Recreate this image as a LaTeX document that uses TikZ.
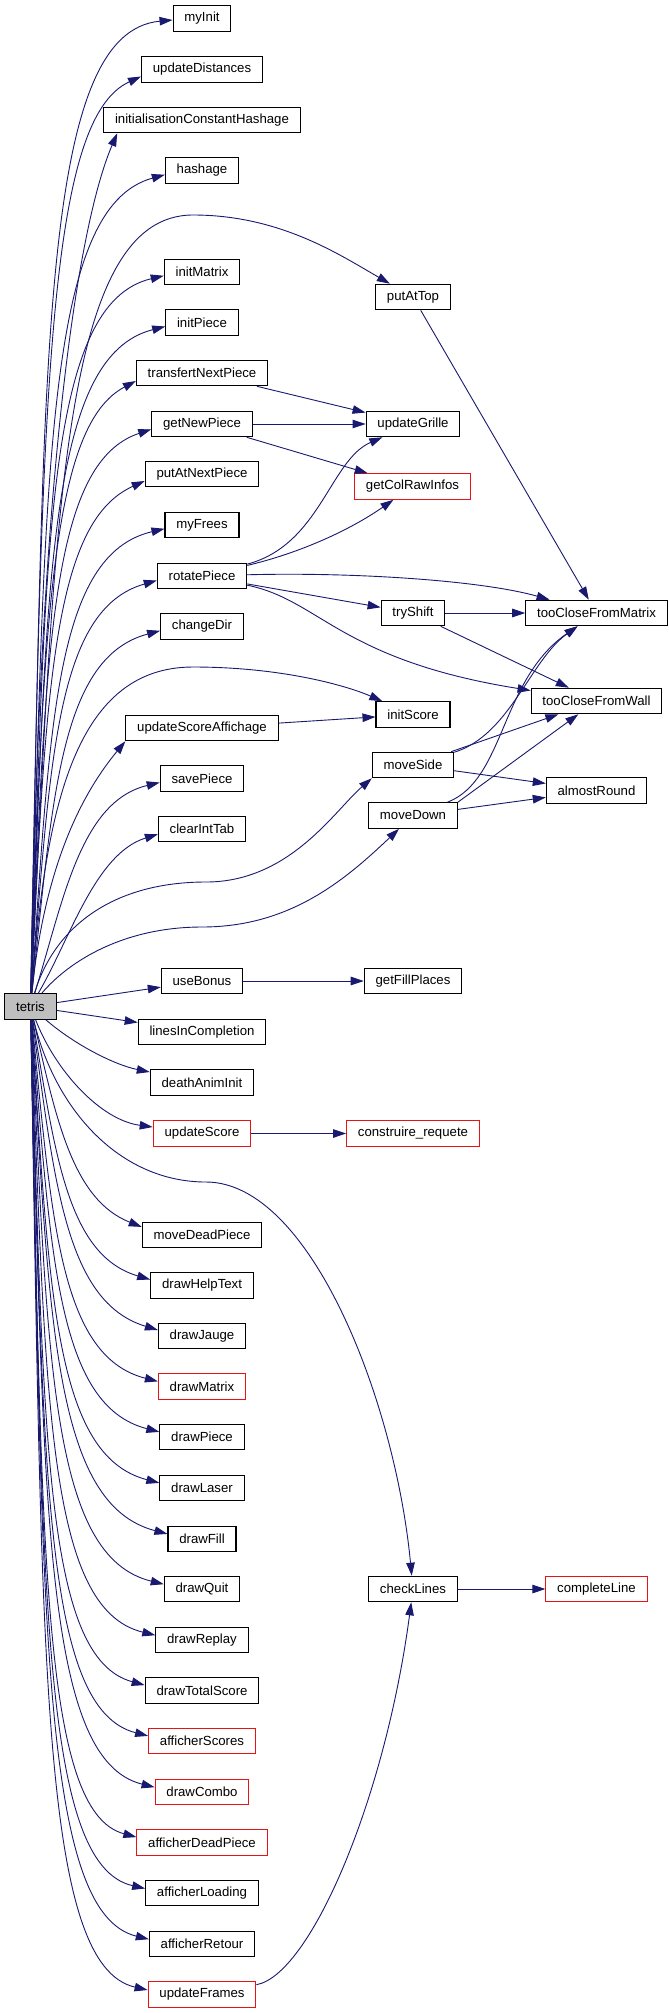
\documentclass[tikz,border=0pt]{standalone}
\usepackage{fontspec}
\setmainfont{Liberation Sans}
\usetikzlibrary{arrows.meta, calc}
\definecolor{callblue}{RGB}{25, 25, 112}
\definecolor{extred}{RGB}{230, 20, 20}
\definecolor{rootgray}{RGB}{191, 191, 191}
\tikzset{
  fn/.style={draw=black, line width=1.1pt, fill=white, minimum height=25.5pt,
             inner xsep=11.3pt, inner ysep=0pt, font=\fontsize{13.2}{15}\selectfont},
  fnext/.style={fn, draw=extred},
  fnroot/.style={fn, fill=rootgray},
  call/.style={callblue, line width=0.9pt, -{Triangle[length=13pt, width=8.5pt]}},
}

\begin{document}
\begin{tikzpicture}[x=1pt, y=-1pt]
  \useasboundingbox (0,0) rectangle (669,2013);
  \fill[white] (0,0) rectangle (669,2013);
  %--- caller ----------------------------------------------------------------
  \node[fnroot] (tetris) at (30.5,1006.5) {tetris};
  %--- direct callees --------------------------------------------------------
  \node[fn] (myInit) at (202,18.5) {myInit};
  \node[fn] (updateDistances) at (202,69.5) {updateDistances};
  \node[fn] (initialisationConstantHashage) at (202,120) {initialisationConstantHashage};
  \node[fn] (hashage) at (202,170.5) {hashage};
  \node[fn] (initMatrix) at (202,272) {initMatrix};
  \node[fn] (initPiece) at (202,322.5) {initPiece};
  \node[fn] (transfertNextPiece) at (202,373) {transfertNextPiece};
  \node[fn] (getNewPiece) at (202,424) {getNewPiece};
  \node[fn] (putAtNextPiece) at (202,474) {putAtNextPiece};
  \node[fn] (myFrees) at (202,525) {myFrees};
  \node[fn] (rotatePiece) at (202,576) {rotatePiece};
  \node[fn] (changeDir) at (202,626.5) {changeDir};
  \node[fn] (updateScoreAffichage) at (202,728) {updateScoreAffichage};
  \node[fn] (savePiece) at (202,778.5) {savePiece};
  \node[fn] (clearIntTab) at (202,829) {clearIntTab};
  \node[fn] (useBonus) at (202,981) {useBonus};
  \node[fn] (linesInCompletion) at (202,1032) {linesInCompletion};
  \node[fn] (deathAnimInit) at (202,1082.5) {deathAnimInit};
  \node[fnext] (updateScore) at (202,1133.5) {updateScore};
  \node[fn] (moveDeadPiece) at (202,1235) {moveDeadPiece};
  \node[fn] (drawHelpText) at (202,1285.5) {drawHelpText};
  \node[fn] (drawJauge) at (202,1336) {drawJauge};
  \node[fnext] (drawMatrix) at (202,1386.5) {drawMatrix};
  \node[fn] (drawPiece) at (202,1437) {drawPiece};
  \node[fn] (drawLaser) at (202,1488) {drawLaser};
  \node[fn] (drawFill) at (202,1539) {drawFill};
  \node[fn] (drawQuit) at (202,1589) {drawQuit};
  \node[fn] (drawReplay) at (202,1640) {drawReplay};
  \node[fn] (drawTotalScore) at (202,1690.5) {drawTotalScore};
  \node[fnext] (afficherScores) at (202,1741) {afficherScores};
  \node[fnext] (drawCombo) at (202,1792) {drawCombo};
  \node[fnext] (afficherDeadPiece) at (202,1842.5) {afficherDeadPiece};
  \node[fn] (afficherLoading) at (202,1893) {afficherLoading};
  \node[fn] (afficherRetour) at (202,1944) {afficherRetour};
  \node[fnext] (updateFrames) at (202,1994.5) {updateFrames};
  %--- second level ----------------------------------------------------------
  \node[fn] (putAtTop) at (413,297) {putAtTop};
  \node[fn] (updateGrille) at (413,424) {updateGrille};
  \node[fnext] (getColRawInfos) at (412.5,486.5) {getColRawInfos};
  \node[fn] (tryShift) at (413,613) {tryShift};
  \node[fn] (initScore) at (413,714.5) {initScore};
  \node[fn] (moveSide) at (413,765) {moveSide};
  \node[fn] (moveDown) at (413,815.5) {moveDown};
  \node[fn] (getFillPlaces) at (413,981) {getFillPlaces};
  \node[fnext] (construireRequete) at (413,1133.5) {construire\_requete};
  \node[fn] (checkLines) at (413,1589) {checkLines};
  %--- third level -----------------------------------------------------------
  \node[fn] (tooCloseFromMatrix) at (596.5,613) {tooCloseFromMatrix};
  \node[fn] (tooCloseFromWall) at (596.5,701) {tooCloseFromWall};
  \node[fn] (almostRound) at (596.5,790.5) {almostRound};
  \node[fnext] (completeLine) at (596.5,1589) {completeLine};

  %--- fan of calls from tetris, upwards -----------------------------------
  \foreach \nd/\cy/\xl/\ang in {myInit/18.5/172/6, updateDistances/69.5/141/28,
      hashage/170.5/166/17, initMatrix/272/164/15, initPiece/322.5/166/16,
      transfertNextPiece/373/136/32, getNewPiece/424/152/21,
      putAtNextPiece/474/144/28, myFrees/525/165/15, rotatePiece/576/158/18,
      changeDir/626.5/161/17, savePiece/778.5/160/16, clearIntTab/829/159/21}{
    \pgfmathsetmacro\pw{\xl-38}
    \pgfmathsetmacro\ph{994-\cy}
    \pgfmathsetmacro\pr{\pw/\ph}
    \pgfmathsetmacro\pl{\pw*(1.1-0.73*\pr)}
    \pgfmathsetmacro\pax{38+0.36*\pw*\pr}
    \pgfmathsetmacro\pay{994-0.72*\ph+0.53*\pw}
    \pgfmathsetmacro\pbx{\xl-\pl*cos(\ang)}
    \pgfmathsetmacro\pby{\cy+\pl*sin(\ang)}
    \pgfmathsetmacro\pey{0.25*\ang}
    \draw[call] (tetris) .. controls (\pax,\pay) and (\pbx,\pby) .. ([yshift=-\pey pt]\nd.west);
  }
  %--- fan of calls from tetris, downwards ---------------------------------
  \foreach \nd/\cy/\xl/\ang in {moveDeadPiece/1235/142/27, drawHelpText/1285.5/150/20,
      drawJauge/1336/159/20, drawMatrix/1386.5/158/17, drawPiece/1437/160/17,
      drawLaser/1488/160/17, drawFill/1539/168/17, drawQuit/1589/164/16,
      drawReplay/1640/156/16, drawTotalScore/1690.5/145/18,
      afficherScores/1741/148/17, drawCombo/1792/156/16,
      afficherDeadPiece/1842.5/137/18, afficherLoading/1893/146/15,
      afficherRetour/1944/150/16, updateFrames/1994.5/149/15}{
    \pgfmathsetmacro\pw{\xl-38}
    \pgfmathsetmacro\ph{\cy-1019}
    \pgfmathsetmacro\pr{\pw/\ph}
    \pgfmathsetmacro\pl{\pw*(1.1-0.73*\pr)}
    \pgfmathsetmacro\pax{38+0.36*\pw*\pr}
    \pgfmathsetmacro\pay{1019+0.72*\ph-0.53*\pw}
    \pgfmathsetmacro\pbx{\xl-\pl*cos(\ang)}
    \pgfmathsetmacro\pby{\cy-\pl*sin(\ang)}
    \pgfmathsetmacro\pey{0.3*\ang}
    \draw[call] (tetris) .. controls (\pax,\pay) and (\pbx,\pby) .. ([yshift=\pey pt]\nd.west);
  }
  % the odd ones from tetris
  \draw[call] (tetris) .. controls (40,450) and (80,220)
    .. ([xshift=14pt]initialisationConstantHashage.south west);
  \draw[call] (tetris) .. controls (45,860) and (85,790) .. (updateScoreAffichage.south west);
  \draw[call] (tetris) -- (useBonus);
  \draw[call] (tetris) -- (linesInCompletion);
  \draw[call] (tetris) .. controls (75,1045) and (115,1065) .. (deathAnimInit);
  \draw[call] (tetris) .. controls (55,1070) and (100,1120) .. (updateScore);
  \draw[call] (tetris) .. controls (55,520) and (60,215) .. (193,215)
    .. controls (280,215) and (340,255) .. (putAtTop);
  \draw[call] (tetris) .. controls (45,820) and (70,667) .. (193,667)
    .. controls (280,667) and (345,685) .. (initScore);
  \draw[call] (tetris) .. controls (55,925) and (115,882) .. (206,882)
    .. controls (290,882) and (335,810) .. (moveSide.south west);
  \draw[call] (tetris) .. controls (70,960) and (125,927) .. (202,927)
    .. controls (290,927) and (345,880) .. (moveDown);
  \draw[call] (tetris) .. controls (55,1110) and (120,1182) .. (206,1182)
    .. controls (310,1182) and (395,1400) .. (checkLines);

  %--- second level calls ----------------------------------------------------
  \draw[call] (putAtTop) -- (tooCloseFromMatrix);
  \draw[call] (transfertNextPiece) -- (updateGrille);
  \draw[call] (getNewPiece) -- (updateGrille);
  \draw[call] (getNewPiece) -- (getColRawInfos);
  \draw[call] (rotatePiece) .. controls (320,545) and (330,460) .. (updateGrille);
  \draw[call] (rotatePiece) .. controls (300,553) and (350,530) .. (getColRawInfos);
  \draw[call] (rotatePiece) .. controls (350,572) and (480,580) .. (tooCloseFromMatrix);
  \draw[call] (rotatePiece) -- (tryShift);
  \draw[call] (rotatePiece) .. controls (320,600) and (340,660) .. (tooCloseFromWall);
  \draw[call] (tryShift) -- (tooCloseFromMatrix);
  \draw[call] (tryShift) -- (tooCloseFromWall);
  \draw[call] (updateScoreAffichage) -- (initScore);
  \draw[call] (moveSide) .. controls (510,735) and (530,660) .. (tooCloseFromMatrix);
  \draw[call] (moveSide) -- (tooCloseFromWall);
  \draw[call] (moveSide) -- (almostRound);
  \draw[call] (moveDown) .. controls (505,780) and (500,680) .. (tooCloseFromMatrix);
  \draw[call] (moveDown.north east) -- (tooCloseFromWall);
  \draw[call] (moveDown) -- (almostRound);
  \draw[call] (useBonus) -- (getFillPlaces);
  \draw[call] (updateScore) -- (construireRequete);
  \draw[call] (checkLines) -- (completeLine);
  \draw[call] (updateFrames) .. controls (310,1975) and (385,1800) .. (checkLines);
\end{tikzpicture}
\end{document}
